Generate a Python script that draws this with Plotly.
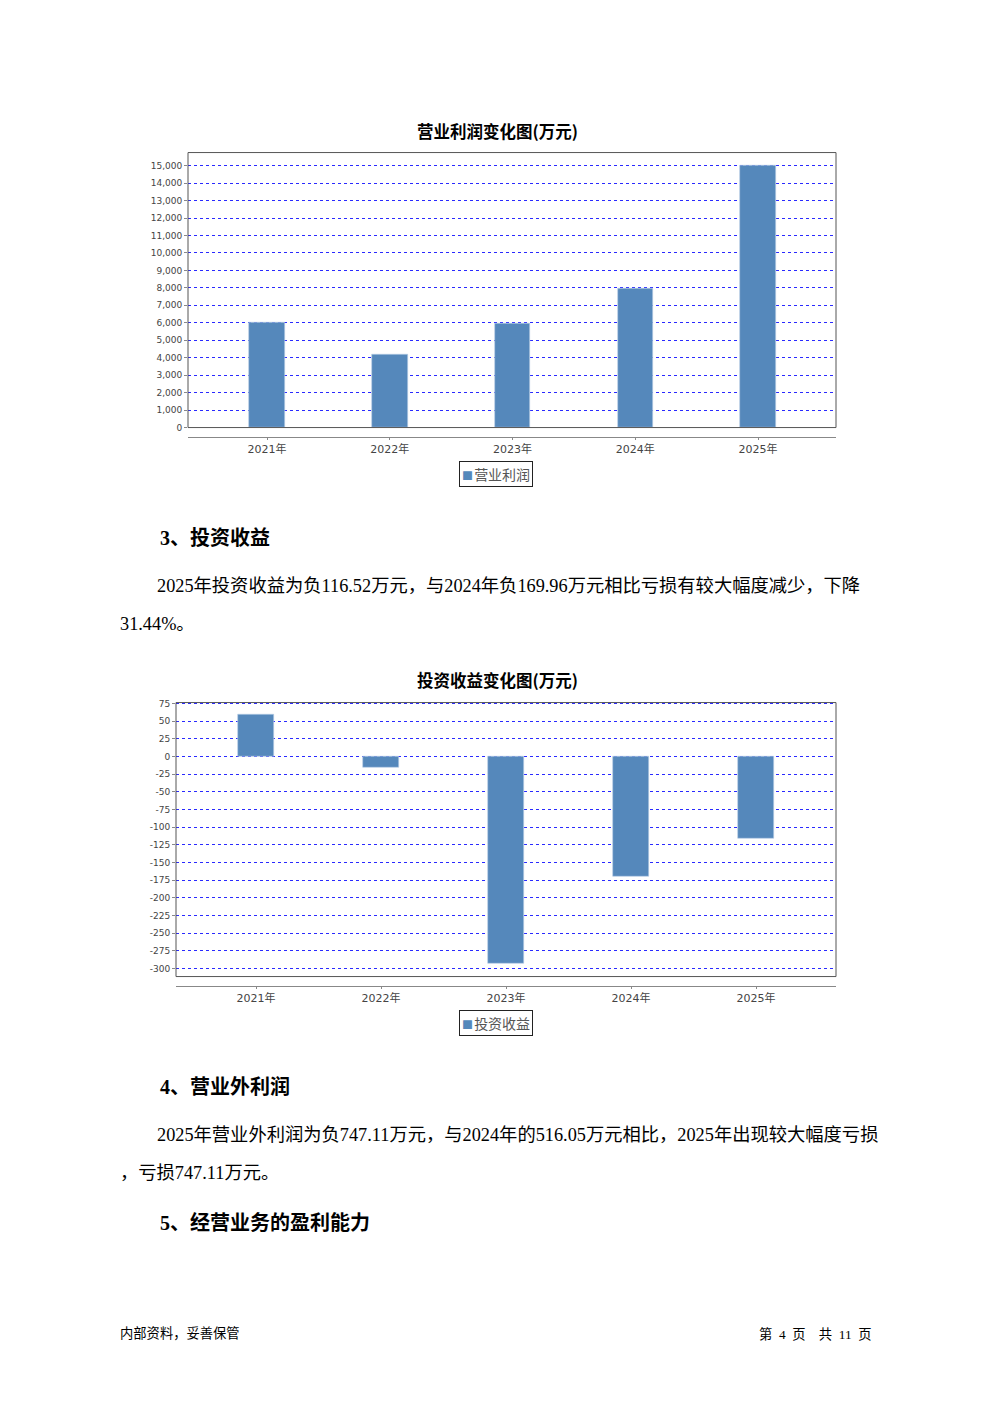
import plotly.graph_objects as go

# page is rendered with an 8px body margin; map reference pixel coords accordingly
OFFX, OFFY = 8, 8
W, H = 976, 1385

years = ["2021年", "2022年", "2023年", "2024年", "2025年"]
op_profit = [6030, 4190, 5930, 7940, 14980]
inv_income = [59.5, -15.0, -293.0, -169.96, -116.52]

op_ticks = list(range(0, 16000, 1000))
op_ticktext = ["{:,}".format(v) for v in op_ticks]
inv_ticks = list(range(-300, 100, 25))
inv_ticktext = [str(v) for v in inv_ticks]

BAR = "#5588BB"
GRID = "#2a2aff"
CJK = "Noto Sans CJK SC"
SERIF = "Liberation Serif, Noto Sans CJK SC"


def px(x):
    return (x - OFFX) / W


def py(y):
    y = (y - 3.5) / 0.9935
    return 1 - (y - OFFY) / H


fig = go.Figure()
fig.add_trace(go.Bar(x=years, y=op_profit, xaxis="x", yaxis="y", width=0.29,
                     marker=dict(color=BAR, line=dict(color="#b8cfe6", width=0.6)),
                     name="营业利润", showlegend=False))
fig.add_trace(go.Bar(x=years, y=inv_income, xaxis="x2", yaxis="y2", width=0.29,
                     marker=dict(color=BAR, line=dict(color="#b8cfe6", width=0.6)),
                     name="投资收益", showlegend=False))

tickfont_y = dict(family="DejaVu Sans, " + CJK, size=9, color="#444")
tickfont_x = dict(family="DejaVu Sans, " + CJK, size=11, color="#444")

common_x = dict(type="category", showgrid=False, showline=True, linecolor="#888", linewidth=1,
                ticks="outside", ticklen=2, tickcolor="#888", tickfont=tickfont_x,
                anchor="free", zeroline=False)
common_y = dict(showgrid=True, gridcolor=GRID, griddash="dot", gridwidth=1, zeroline=False,
                showline=False, ticks="outside", ticklen=3, tickcolor="#888",
                tickfont=tickfont_y)

fig.update_layout(
    width=W, height=H, margin=dict(l=0, r=0, t=0, b=0),
    paper_bgcolor="white", plot_bgcolor="white", bargap=0,
    xaxis=dict(common_x, domain=[px(188), px(836)], position=py(436.5), range=[-0.644, 4.635]),
    yaxis=dict(common_y, domain=[py(427), py(152)], range=[0, 15750], tickvals=op_ticks,
               ticktext=op_ticktext, anchor="x"),
    xaxis2=dict(common_x, domain=[px(176), px(836)], position=py(985), range=[-0.64, 4.64]),
    yaxis2=dict(common_y, domain=[py(976), py(702)], range=[-311.5, 76.5], tickvals=inv_ticks,
                ticktext=inv_ticktext, anchor="x2"),
)

shapes = []
for xr, yr in (("x domain", "y domain"), ("x2 domain", "y2 domain")):
    shapes.append(dict(type="rect", xref=xr, yref=yr, x0=0, x1=1, y0=0, y1=1,
                       line=dict(color="#555", width=1), layer="above"))
fig.update_layout(shapes=shapes)

ann = []


def text(x, y, s, size, bold=False, family=CJK, anchor="left", color="black", **kw):
    if bold:
        s = "<b>" + s + "</b>"
    ann.append(dict(x=px(x), y=py(y), xref="paper", yref="paper", text=s, showarrow=False,
                    xanchor=anchor, yanchor="middle", font=dict(family=family, size=size, color=color), **kw))


# chart titles
text(497, 130, "营业利润变化图(万元)", 16.5, bold=True, anchor="center")
text(497, 679, "投资收益变化图(万元)", 16.5, bold=True, anchor="center")

NB = "\u00a0"
# legends
for yy, lab in ((473.5, "营业利润"), (1022.5, "投资收益")):
    ann.append(dict(x=px(496), y=py(yy), xref="paper", yref="paper", showarrow=False,
                    xanchor="center", yanchor="middle",
                    text="<span style='color:%s;font-size:11px'>■</span><span style='font-size:5px'>%s</span>%s"
                         % (BAR, NB, lab),
                    font=dict(family=CJK, size=14, color="#555"),
                    bordercolor="#222", borderwidth=1, borderpad=2, bgcolor="white"))

# section text (x values compensate annotation padding)
text(158, 537, "3、投资收益", 20, bold=True, family=SERIF)
text(155, 585, "2025年投资收益为负116.52万元，与2024年负169.96万元相比亏损有较大幅度减少，下降", 18.3, family=SERIF)
text(118, 623, "31.44%。", 18.3, family=SERIF)

text(158, 1086, "4、营业外利润", 20, bold=True, family=SERIF)
text(155, 1134, "2025年营业外利润为负747.11万元，与2024年的516.05万元相比，2025年出现较大幅度亏损", 18.3, family=SERIF)
text(118, 1172, "，亏损747.11万元。", 18.3, family=SERIF)

text(158, 1222, "5、经营业务的盈利能力", 20, bold=True, family=SERIF)

# footer
text(118, 1333, "内部资料，妥善保管", 13.3, family=SERIF)
text(874, 1333, "第" + NB * 2 + "4" + NB * 2 + "页" + NB * 4 + "共" + NB * 2 + "11" + NB * 2 + "页",
     13.3, family=SERIF, anchor="right")

fig.update_layout(annotations=ann)

fig.write_html("out.html")
